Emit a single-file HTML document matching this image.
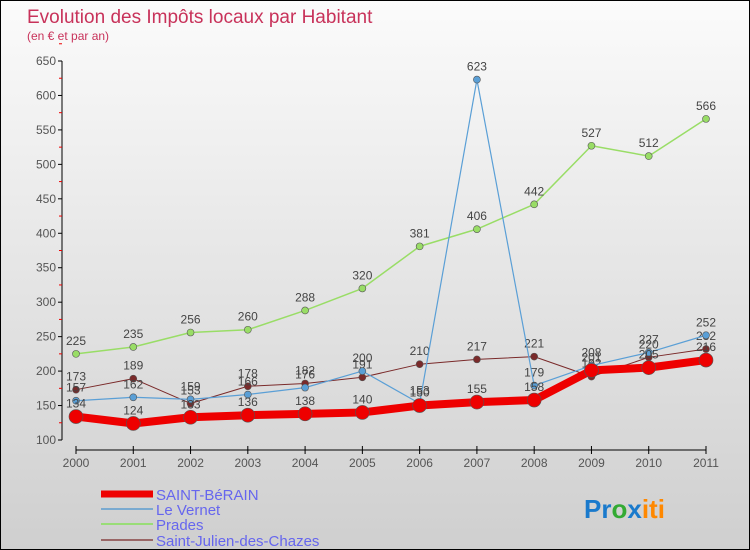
<!DOCTYPE html>
<html><head><meta charset="utf-8"><style>
body{margin:0;}
#c{position:relative;width:748px;height:548px;border:1px solid #000;background:linear-gradient(#fbfbfb,#cfcfcf);overflow:hidden;font-family:"Liberation Sans",sans-serif;}
svg text{font-family:"Liberation Sans",sans-serif;}
</style></head><body>
<div id="c">
<svg id="s" width="748" height="548">
<text x="26" y="22" font-size="19" fill="#c8325a">Evolution des Impôts locaux par Habitant</text>
<text x="26" y="39" font-size="12" fill="#c8325a">(en € et par an)</text>
<g id="axes"></g><g id="series"></g>
<g>
<line x1="100" y1="493" x2="152" y2="493" stroke="#e00" stroke-width="7"/>
<text x="155" y="499" font-size="15" fill="#6666ee">SAINT-BéRAIN</text>
<line x1="100" y1="508" x2="152" y2="508" stroke="#7aaad0" stroke-width="2"/>
<text x="155" y="514" font-size="15" fill="#6666ee">Le Vernet</text>
<line x1="100" y1="523" x2="152" y2="523" stroke="#99dd77" stroke-width="2"/>
<text x="155" y="529" font-size="15" fill="#6666ee">Prades</text>
<line x1="100" y1="539" x2="152" y2="539" stroke="#996666" stroke-width="2"/>
<text x="155" y="545" font-size="15" fill="#6666ee">Saint-Julien-des-Chazes</text>
</g>
<text x="583" y="517" font-size="26" font-weight="bold"><tspan fill="#1a7acc">Pr</tspan><tspan fill="#33aa33">o</tspan><tspan fill="#1a7acc">x</tspan><tspan fill="#ff8800">iti</tspan></text>
</svg>
</div>
<script>
const years=[2000,2001,2002,2003,2004,2005,2006,2007,2008,2009,2010,2011];
const yTicks=[100,150,200,250,300,350,400,450,500,550,600,650];
const saintBerain=[134,124,133,136,138,140,150,155,158,201,205,216];
const leVernet=[157,162,159,166,176,200,153,623,179,208,227,252];
const prades=[225,235,256,260,288,320,381,406,442,527,512,566];
const saintJulien=[173,189,153,178,182,191,210,217,221,192,220,232];
const NS='http://www.w3.org/2000/svg';
const X=i=>75+i*(705-75)/(years.length-1);
const Y=v=>439-(v-100)*(439-60)/550;
function mk(t,a,p){const e=document.createElementNS(NS,t);for(const k in a)e.setAttribute(k,a[k]);p.appendChild(e);return e;}
const ax=document.getElementById('axes');
let l=mk('line',{x1:61,y1:60,x2:61,y2:439,stroke:'#000'},ax);


yTicks.forEach(v=>{
 mk('line',{x1:57,y1:Y(v),x2:61,y2:Y(v),stroke:'#000'},ax);
 mk('line',{x1:58,y1:Y(v+25),x2:61,y2:Y(v+25),stroke:'#e00'},ax);
 const t=mk('text',{x:55,y:Y(v)+4,'font-size':12,fill:'#555','text-anchor':'end'},ax);t.textContent=v;
 
 
});
l=mk('line',{x1:75,y1:449,x2:705,y2:449,stroke:'#000'},ax);


years.forEach((y,i)=>{
 mk('line',{x1:X(i),y1:445,x2:X(i),y2:453,stroke:'#000'},ax);
 const t=mk('text',{x:X(i),y:466,'font-size':12,fill:'#555','text-anchor':'middle'},ax);t.textContent=y;
 
 
});
const sg=document.getElementById('series');
function draw(vals,color,w,r,name){
 const g=mk('g',{},sg);
 
 
 const p=mk('polyline',{points:vals.map((v,i)=>X(i)+','+Y(v)).join(' '),fill:'none',stroke:color,'stroke-width':w,'stroke-linejoin':'round'},g);
 
 
 vals.forEach((v,i)=>{
  const c=mk('circle',{cx:X(i),cy:Y(v),r:r,fill:color,stroke:'#555','stroke-width':0.6},g);
  
  
  const t=mk('text',{x:X(i),y:Y(v)-9,'font-size':12,fill:'#444','text-anchor':'middle'},g);t.textContent=v;
  
  
 });
}
draw(prades,'#99dd66',1.5,3.5,'series-prades');
draw(saintJulien,'#7a2a2a',1,3.5,'series-saint-julien');
draw(leVernet,'#5a9fd6',1.2,3.5,'series-le-vernet');
draw(saintBerain,'#ee0000',8,7,'series-saint-berain');
</script>
</body></html>
